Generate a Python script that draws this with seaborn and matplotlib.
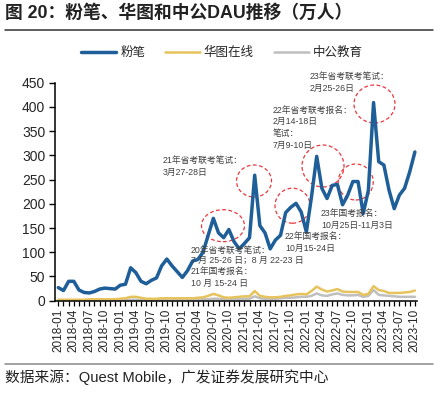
import numpy as np
import pandas as pd
import matplotlib
matplotlib.use("Agg")
import matplotlib.pyplot as plt
from matplotlib.patches import Ellipse
from matplotlib.lines import Line2D
import seaborn as sns

# ---------------- data ----------------
months = list(pd.date_range("2018-01-01", periods=70, freq="MS").strftime("%Y-%m"))

fenbi = [27, 21, 40, 40, 22, 17, 16, 19, 24, 26, 25, 24,
         32, 34, 68, 58, 40, 35, 42, 47, 72, 86, 72, 60,
         48, 62, 82, 85, 100, 135, 170, 140, 130, 147, 122, 107,
         118, 130, 259, 155, 140, 107, 125, 135, 182, 193, 201, 183,
         142, 215, 298, 232, 211, 238, 240, 198, 218, 246, 246, 180,
         228, 409, 287, 280, 228, 190, 218, 232, 266, 307]

huatu = [2, 2, 2, 2, 2, 2, 3, 3, 3, 3, 3, 3,
         4, 5, 8, 8, 6, 4, 4, 4, 5, 5, 5, 5,
         5, 5, 5, 6, 7, 10, 14, 11, 7, 6, 7, 8,
         9, 9, 20, 10, 8, 7, 7, 8, 10, 11, 13, 14,
         13, 20, 29, 23, 19, 21, 24, 19, 18, 18, 18, 12,
         14, 30, 22, 20, 16, 16, 16, 17, 18, 21]

zhonggong = [1, 1, 1, 1, 1, 1, 1, 1, 2, 2, 2, 2,
             2, 2, 2, 2, 2, 2, 2, 2, 2, 2, 3, 3,
             3, 3, 3, 3, 3, 3, 4, 4, 3, 3, 3, 3,
             4, 4, 9, 5, 4, 4, 4, 5, 6, 6, 7, 8,
             8, 10, 15, 11, 10, 13, 15, 12, 11, 11, 12, 8,
             10, 22, 12, 11, 10, 9, 8, 8, 8, 8]

series_names = ["粉笔", "华图在线", "中公教育"]
series_colors = ["#1F5F99", "#E6C35C", "#BFBFBF"]

title = "图 20：粉笔、华图和中公DAU推移（万人）"
source = "数据来源：Quest Mobile，广发证券发展研究中心"

# annotations: (left x px, [(y px, text), ...])
notes = [
    (163, [(160, "21年省考联考笔试："), (172, "3月27-28日")]),
    (273, [(110, "22年省考联考报名："), (121.7, "2月14-18日"), (133.3, "笔试："), (145, "7月9-10日")]),
    (310, [(76.7, "23年省考联考笔试："), (88.3, "2月25-26日")]),
    (321, [(213, "23年国考报名："), (225, "10月25日-11月3日")]),
    (285, [(236.7, "22年国考报名："), (248.3, "10月15-24日")]),
    (191, [(250, "20年省考联考笔试："), (260.7, "7 月 25-26 日；8 月 22-23 日"),
           (271.7, "21年国考报名："), (283.3, "10 月 15-24 日")]),
]
circles = [(223, 225.7, 43, 32), (254, 181, 35, 32), (292.5, 205.7, 35, 35),
           (323, 166, 42, 42), (355.7, 182, 35, 36), (374.5, 104, 41, 38)]

# ---------------- style ----------------
sns.set_style("ticks")
plt.rcParams["font.family"] = ["Liberation Sans", "Noto Sans CJK SC"]
plt.rcParams["axes.unicode_minus"] = False

W, H = 441, 399
fig = plt.figure(figsize=(W / 100, H / 100), dpi=100)
ax_l, ax_r, ax_t, ax_b = 55, 416.7, 82.7, 300.7
ax = fig.add_axes([ax_l / W, 1 - ax_b / H, (ax_r - ax_l) / W, (ax_b - ax_t) / H])

df = pd.DataFrame({"idx": np.arange(len(months)), "月份": months,
                   "粉笔": fenbi, "华图在线": huatu, "中公教育": zhonggong})

widths = {"粉笔": 2.5, "华图在线": 1.8, "中公教育": 1.8}
for name, col in reversed(list(zip(series_names, series_colors))):
    sns.lineplot(data=df, x="idx", y=name, ax=ax, color=col, linewidth=widths[name],
                 solid_joinstyle="round", solid_capstyle="round", legend=False)

ax.set_xlim(-0.64, 69.35)
ax.set_ylim(0, 450)
ax.set_yticks(np.arange(0, 451, 50))
ax.set_xticks(df["idx"])
ax.set_xticklabels([m if i % 3 == 0 else "" for i, m in enumerate(months)],
                   rotation=90, fontsize=8.5)
ax.tick_params(axis="y", labelsize=10, length=4, width=1, color="black", pad=3)
ax.tick_params(axis="x", length=3.5, width=0.9, color="black", pad=2)
ax.set_xlabel("")
ax.set_ylabel("")
for s in ["top", "right"]:
    ax.spines[s].set_visible(False)
for s in ["left", "bottom"]:
    ax.spines[s].set_color("black")
    ax.spines[s].set_linewidth(1.1)

# annotations
def fx(x):
    return (x - ax_l) / (ax_r - ax_l)

def fy(y):
    return (ax_b - y) / (ax_b - ax_t)

for x0, lines in notes:
    for y0, txt in lines:
        ax.text(fx(x0), fy(y0), txt, transform=ax.transAxes, fontsize=6.3,
                color="#404040", va="center", ha="left", clip_on=False)

for cx, cy, w, h in circles:
    e = Ellipse((fx(cx), fy(cy)), w / (ax_r - ax_l), h / (ax_b - ax_t),
                transform=ax.transAxes, fill=False, edgecolor="#E8383D",
                linestyle=(0, (3, 2)), linewidth=0.9, clip_on=False)
    ax.add_patch(e)

# title, rules, legend, source
fig.text(5 / W, 1 - 13 / H, title, fontsize=12.8, fontweight="bold",
         va="center", ha="left", color="#222222")
fig.add_artist(Line2D([5 / W, 433 / W], [1 - 29.5 / H, 1 - 29.5 / H],
                      color="#333333", linewidth=1.1))
fig.add_artist(Line2D([5 / W, 433 / W], [1 - 364 / H, 1 - 364 / H],
                      color="#888888", linewidth=1.1))
fig.text(5 / W, 1 - 377 / H, source, fontsize=10.6, va="center", ha="left",
         color="#222222")

handles = [Line2D([], [], color=c, linewidth=2.5 if n == "粉笔" else 1.8)
           for n, c in zip(series_names, series_colors)]
fig.legend(handles, series_names, loc="center", bbox_to_anchor=(222 / W, 1 - 53 / H),
           ncol=3, frameon=False, fontsize=9, handlelength=2.8,
           handletextpad=0.3, columnspacing=1.6)

fig.savefig("out.png", dpi=100)
